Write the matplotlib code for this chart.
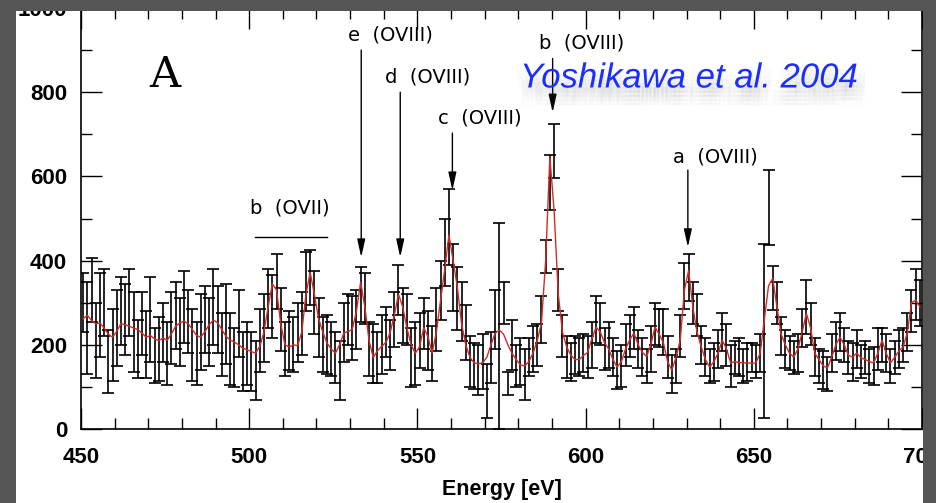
import numpy as np
import matplotlib
matplotlib.use("Agg")
import matplotlib.pyplot as plt
import matplotlib.patheffects as pe
from matplotlib.patches import Rectangle
from matplotlib.ticker import MultipleLocator

# energy bins, 1.25 eV wide
energy = 450.625 + 1.25 * np.arange(200)

counts = [
    300, 240, 330, 210, 270, 300, 160, 200, 240, 280,
    260, 300, 230, 190, 250, 200, 260, 175, 190, 230,
    180, 240, 270, 230, 290, 255, 200, 180, 230, 260,
    230, 290, 260, 200, 250, 190, 170, 250, 160, 180,
    160, 140, 210, 240, 310, 290, 350, 260, 190, 210,
    200, 230, 250, 350, 360, 300, 240, 200, 200, 190,
    170, 140, 230, 260, 240, 260, 320, 310, 190, 180,
    170, 200, 230, 200, 260, 330, 270, 260, 170, 180,
    210, 250, 210, 180, 260, 330, 420, 480, 360, 310,
    280, 230, 160, 150, 140, 160, 90, 170, 260, 245,
    300, 108, 200, 150, 160, 130, 170, 190, 200, 260,
    410, 585, 660, 330, 220, 170, 160, 175, 170, 180,
    170, 200, 260, 250, 190, 200, 170, 140, 150, 200,
    220, 240, 190, 170, 150, 190, 250, 240, 230, 170,
    130, 150, 220, 340, 360, 300, 270, 200, 170, 150,
    160, 190, 230, 200, 150, 170, 170, 150, 160, 170,
    160, 180, 233, 526, 335, 300, 220, 190, 180, 170,
    180, 240, 290, 250, 170, 150, 140, 130, 180, 210,
    230, 200, 170, 160, 190, 160, 170, 150, 150, 190,
    200, 180, 150, 170, 190, 200, 230, 280, 320, 300,
]

errors = [
    70, 110, 75, 90, 100, 80, 75, 85, 90, 80,
    85, 80, 95, 70, 75, 80, 100, 65, 75, 70,
    75, 85, 80, 80, 85, 75, 85, 75, 90, 80,
    80, 90, 80, 75, 95, 85, 70, 80, 70, 75,
    70, 70, 75, 80, 70, 75, 65, 75, 65, 70,
    65, 70, 75, 70, 65, 75, 70, 65, 70, 65,
    60, 70, 70, 60, 75, 70, 65, 60, 65, 70,
    60, 70, 60, 60, 65, 60, 65, 60, 70, 75,
    65, 60, 70, 65, 75, 70, 80, 90, 80, 75,
    70, 65, 60, 55, 60, 65, 65, 60, 70, 245,
    50, 27, 60, 50, 55, 60, 45, 55, 50, 55,
    40, 65, 64, 50, 50, 50, 45, 45, 45, 45,
    50, 55, 55, 50, 50, 55, 45, 45, 50, 50,
    50, 50, 45, 45, 40, 55, 50, 45, 55, 50,
    45, 40, 50, 55, 55, 50, 50, 45, 45, 40,
    45, 45, 45, 50, 50, 40, 45, 40, 45, 35,
    40, 45, 207, 89, 53, 50, 45, 45, 40, 40,
    45, 45, 65, 50, 45, 40, 45, 40, 45, 45,
    45, 40, 40, 45, 45, 40, 40, 40, 45, 50,
    40, 45, 40, 40, 45, 40, 45, 50, 60, 55,
]

model = [
    262, 270, 258, 250, 252, 240, 225, 218, 232, 250,
    248, 244, 240, 236, 228, 218, 222, 214, 210, 216,
    211, 226, 244, 252, 256, 250, 236, 222, 218, 232,
    248, 259, 252, 236, 220, 211, 206, 200, 192, 188,
    184, 180, 196, 230, 290, 345, 330, 250, 200, 195,
    200, 198, 230, 320, 372, 320, 262, 230, 204, 190,
    180, 200, 228, 232, 236, 280, 349, 290, 210, 170,
    186, 196, 206, 228, 270, 320, 290, 240, 200, 180,
    195, 240, 220, 180, 230, 306, 380, 461, 400, 337,
    250, 200, 170, 157, 155, 157, 170, 200, 228, 235,
    225, 200, 180, 165, 152, 150, 160, 180, 210, 252,
    400, 646, 520, 320, 230, 195, 175, 165, 165, 175,
    182, 215, 242, 230, 205, 190, 165, 147, 160, 190,
    212, 228, 200, 182, 172, 200, 242, 225, 205, 160,
    140, 170, 211, 330, 377, 290, 230, 195, 165, 147,
    160, 180, 211, 190, 157, 160, 158, 157, 157, 156,
    157, 180, 260, 340, 358, 290, 225, 200, 180, 171,
    190, 230, 275, 240, 180, 165, 150, 145, 170, 200,
    218, 200, 175, 171, 180, 169, 165, 160, 157, 180,
    211, 180, 157, 170, 185, 195, 228, 300, 306, 290,
]

# line labels: text, text x, text y, arrow x, arrow top, arrow tip
lines = [
    ("e  (OVIII)", 529.5, 935, 533.3, 900, 408),
    ("d  (OVIII)", 540.5, 836, 544.9, 800, 408),
    ("c  (OVIII)", 556.0, 738, 560.4, 703, 567),
    ("b  (OVIII)", 586.0, 916, 590.2, 880, 752),
    ("a  (OVIII)", 625.9, 646, 630.4, 615, 432),
]

fig = plt.figure(figsize=(9.37, 5.03), dpi=100)
fig.patch.set_facecolor("white")
ax = fig.add_axes([81 / 937, 74 / 503, 841 / 937, 421 / 503])

ax.errorbar(energy, counts, yerr=errors, fmt="none", ecolor="black",
            elinewidth=1.2, capsize=4, capthick=1.2, zorder=2)
ax.plot(energy, model, color="#d42a2a", lw=1.0, zorder=3)

ax.set_xlim(450, 700)
ax.set_ylim(0, 1000)
ax.xaxis.set_major_locator(MultipleLocator(50))
ax.xaxis.set_minor_locator(MultipleLocator(10))
ax.yaxis.set_major_locator(MultipleLocator(200))
ax.yaxis.set_minor_locator(MultipleLocator(100))
ax.tick_params(which="both", direction="in", top=True, right=True, width=1)
ax.tick_params(which="major", length=15)
ax.tick_params(which="minor", length=8)
ax.tick_params(axis="x", which="major", pad=13)
ax.tick_params(axis="y", which="major", pad=10)
for lab in ax.get_xticklabels() + ax.get_yticklabels():
    lab.set_fontfamily("Liberation Sans")
    lab.set_fontweight("bold")
    lab.set_fontsize(16)
ax.set_xlabel("Energy [eV]", fontfamily="Liberation Sans", fontweight="bold",
              fontsize=15.5, labelpad=8)
for sp in ax.spines.values():
    sp.set_linewidth(1.2)

for text, tx, ty, axx, top, tip in lines:
    ax.text(tx, ty, text, ha="left", va="center", fontsize=14,
            fontfamily="DejaVu Sans", color="black")
    ax.annotate("", xy=(axx, tip), xytext=(axx, top),
                arrowprops=dict(arrowstyle="-|>,head_length=0.9,head_width=0.2",
                                lw=1.0, color="black", shrinkA=0, shrinkB=0,
                                mutation_scale=12))

ax.text(500.3, 525, "b  (OVII)", ha="left", va="center", fontsize=14,
        fontfamily="DejaVu Sans")
ax.plot([501.8, 523.2], [456, 456], color="black", lw=1.0)
ax.text(475.0, 840, "A", ha="center", va="center", fontsize=31,
        fontfamily="DejaVu Serif")

# soft blurred shadow under the citation
shadow = [pe.SimplePatchShadow(offset=(dx, dy), shadow_rgbFace="0.5",
                               alpha=0.022)
          for dx in (-5, -2, 1, 4, 7) for dy in (-4, -7, -10, -13)]
fig.text(520 / 937, 1 - 78 / 503, "Yoshikawa et al. 2004", ha="left",
         va="center", fontsize=25, fontstyle="italic",
         fontfamily="Liberation Sans", color="#1a2eff",
         path_effects=shadow + [pe.Normal()])

# dark slide frame around the picture
frame = "#555555"
for x0, y0, w, h in [(0, 0, 16, 503), (0, 0, 937, 11), (923, 0, 14, 503)]:
    fig.add_artist(Rectangle((x0 / 937, 1 - (y0 + h) / 503), w / 937, h / 503,
                             transform=fig.transFigure, facecolor=frame,
                             edgecolor="none", zorder=20))

fig.savefig("out.png", dpi=100)
